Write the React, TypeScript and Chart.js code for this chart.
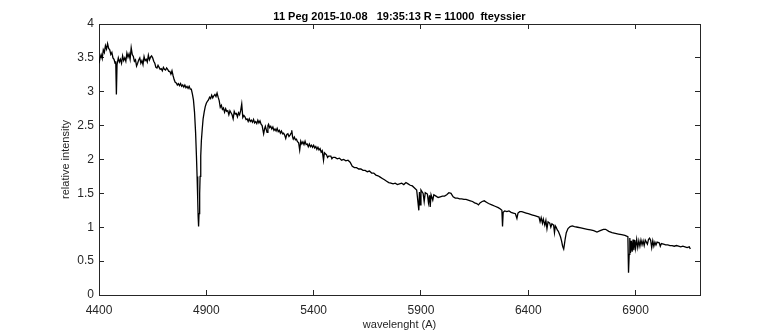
import React, { useEffect, useRef } from "react";
import { Chart, registerables } from "chart.js";

Chart.register(...registerables);

const titleText = "11 Peg 2015-10-08   19:35:13 R = 11000  fteyssier";
const xLabel = "wavelenght (A)";
const yLabel = "relative intensity";

const xTicks = [4400, 4900, 5400, 5900, 6400, 6900];
const yTicks = [0, 0.5, 1, 1.5, 2, 2.5, 3, 3.5, 4];

// [wavelength (A), relative intensity]
const spectrumBlue: [number, number][] = [
  [4400, 3.42], [4405, 3.50], [4410, 3.55], [4415, 3.49], [4420, 3.62], [4425, 3.58], [4430, 3.68], [4435, 3.63],
  [4440, 3.71], [4445, 3.64], [4450, 3.62], [4455, 3.55], [4460, 3.58], [4465, 3.50], [4470, 3.48], [4475, 3.42],
  [4478, 3.45], [4481, 2.96], [4484, 3.40], [4490, 3.50], [4495, 3.44], [4500, 3.48], [4505, 3.42], [4510, 3.53],
  [4515, 3.46], [4520, 3.50], [4525, 3.45], [4530, 3.57], [4535, 3.51], [4540, 3.56], [4545, 3.48], [4550, 3.65],
  [4555, 3.55], [4560, 3.52], [4565, 3.45], [4570, 3.47], [4575, 3.38], [4580, 3.42], [4585, 3.47], [4590, 3.50],
  [4595, 3.42], [4600, 3.46], [4605, 3.40], [4610, 3.52], [4615, 3.46], [4620, 3.48], [4625, 3.44], [4630, 3.54],
  [4635, 3.47], [4640, 3.51], [4645, 3.53], [4650, 3.50], [4655, 3.45], [4660, 3.42], [4665, 3.36], [4670, 3.35],
  [4675, 3.39], [4680, 3.36], [4685, 3.33], [4690, 3.34], [4695, 3.31], [4700, 3.36], [4705, 3.33], [4710, 3.32],
  [4715, 3.35], [4720, 3.33], [4725, 3.30], [4730, 3.30], [4735, 3.26], [4740, 3.31], [4745, 3.24], [4750, 3.18],
  [4755, 3.14], [4760, 3.13], [4765, 3.10], [4770, 3.12], [4775, 3.09], [4780, 3.12], [4785, 3.08], [4790, 3.10],
  [4795, 3.07], [4800, 3.10], [4805, 3.06], [4810, 3.08], [4815, 3.05], [4820, 3.08], [4825, 3.04], [4830, 3.04],
  [4835, 2.97], [4840, 2.88], [4845, 2.70], [4850, 2.40], [4854, 2.05], [4857, 1.75], [4860, 1.40], [4862, 1.15],
  [4864, 1.01], [4866, 1.20], [4869, 1.50], [4871, 1.75], [4874, 2.05], [4877, 2.28], [4881, 2.45], [4885, 2.60],
  [4890, 2.70], [4895, 2.78],
];

const spectrumGreen: [number, number][] = [
  [4900, 2.83], [4905, 2.86], [4910, 2.88], [4915, 2.92], [4920, 2.90], [4925, 2.95], [4930, 2.91], [4935, 2.94],
  [4940, 2.96], [4945, 2.93], [4950, 2.98], [4955, 2.92], [4960, 2.87], [4965, 2.77], [4970, 2.80], [4975, 2.74],
  [4980, 2.76], [4985, 2.70], [4990, 2.75], [4995, 2.71], [5000, 2.72], [5005, 2.66], [5010, 2.72], [5015, 2.69],
  [5020, 2.66], [5025, 2.60], [5030, 2.71], [5035, 2.67], [5040, 2.68], [5045, 2.63], [5050, 2.69], [5055, 2.66],
  [5060, 2.72], [5065, 2.82], [5070, 2.62], [5075, 2.65], [5080, 2.63], [5085, 2.59], [5090, 2.60], [5095, 2.56],
  [5100, 2.60], [5105, 2.56], [5110, 2.58], [5115, 2.55], [5120, 2.59], [5125, 2.54], [5130, 2.56], [5135, 2.53],
  [5140, 2.58], [5145, 2.54], [5150, 2.57], [5155, 2.52], [5160, 2.50], [5167, 2.38], [5172, 2.46], [5175, 2.49],
  [5183, 2.40], [5187, 2.50], [5190, 2.52], [5195, 2.47], [5200, 2.49], [5205, 2.45], [5210, 2.48], [5215, 2.43],
  [5220, 2.45], [5225, 2.42], [5230, 2.46], [5235, 2.41], [5240, 2.43], [5245, 2.39], [5250, 2.42], [5255, 2.38],
  [5260, 2.39], [5265, 2.36], [5270, 2.31], [5275, 2.37], [5280, 2.38], [5285, 2.34], [5290, 2.36], [5295, 2.39],
  [5298, 2.43], [5302, 2.33], [5305, 2.30], [5310, 2.33], [5315, 2.29], [5320, 2.30], [5325, 2.26], [5330, 2.25],
  [5335, 2.14], [5340, 2.27], [5345, 2.23], [5350, 2.26], [5355, 2.22], [5360, 2.27], [5365, 2.22], [5370, 2.23],
  [5375, 2.19], [5380, 2.23], [5385, 2.19], [5390, 2.21], [5395, 2.18], [5400, 2.21], [5405, 2.17], [5410, 2.19],
  [5415, 2.15], [5420, 2.18], [5425, 2.14], [5430, 2.16], [5435, 2.11], [5440, 2.13], [5446, 1.99], [5450, 2.10],
  [5460, 2.07], [5465, 2.03], [5470, 2.05], [5480, 2.05], [5485, 2.01], [5490, 2.03], [5500, 2.03], [5510, 2.01],
  [5520, 2.02], [5530, 1.99], [5540, 2.00], [5550, 1.98], [5560, 1.99], [5570, 1.96], [5580, 1.90], [5590, 1.88],
  [5600, 1.88], [5610, 1.86], [5620, 1.86], [5630, 1.84], [5640, 1.84], [5650, 1.82], [5660, 1.83], [5670, 1.80],
  [5680, 1.80], [5690, 1.77], [5700, 1.76], [5710, 1.74], [5720, 1.72], [5730, 1.70], [5740, 1.68], [5750, 1.66],
  [5760, 1.65], [5770, 1.64], [5780, 1.65], [5790, 1.63], [5800, 1.64], [5810, 1.65], [5820, 1.63], [5830, 1.66],
  [5840, 1.64], [5850, 1.62], [5860, 1.61], [5870, 1.58], [5880, 1.55], [5890, 1.25], [5893, 1.52], [5896, 1.33],
  [5900, 1.55], [5910, 1.50], [5915, 1.38], [5920, 1.51], [5930, 1.49], [5935, 1.36], [5940, 1.47], [5943, 1.30],
  [5947, 1.48], [5955, 1.40], [5960, 1.48], [5970, 1.46], [5980, 1.44], [5990, 1.45],
];

const spectrumRed: [number, number][] = [
  [6000, 1.46], [6010, 1.46], [6020, 1.48], [6030, 1.51], [6040, 1.50], [6050, 1.45], [6060, 1.43], [6070, 1.43],
  [6080, 1.42], [6090, 1.42], [6100, 1.41], [6110, 1.41], [6120, 1.40], [6130, 1.39], [6140, 1.38], [6150, 1.36],
  [6160, 1.35], [6168, 1.33], [6175, 1.36], [6185, 1.38], [6195, 1.39], [6205, 1.37], [6215, 1.35], [6230, 1.33],
  [6245, 1.31], [6260, 1.29], [6270, 1.27], [6277, 1.25], [6280, 1.01], [6283, 1.22], [6290, 1.24], [6300, 1.23],
  [6310, 1.24], [6320, 1.22], [6330, 1.21], [6340, 1.20], [6347, 1.13], [6352, 1.21], [6360, 1.23], [6370, 1.23],
  [6380, 1.22], [6390, 1.21], [6400, 1.20], [6410, 1.19], [6420, 1.18], [6430, 1.17], [6440, 1.16], [6450, 1.15],
  [6455, 1.08], [6460, 1.14], [6466, 1.06], [6470, 1.12], [6477, 1.03], [6482, 1.10], [6487, 0.98], [6492, 1.08],
  [6500, 1.06], [6505, 1.00], [6510, 1.05], [6518, 1.03], [6522, 0.92], [6526, 1.02], [6530, 1.00], [6535, 0.96],
  [6540, 0.94], [6545, 0.90], [6550, 0.86], [6555, 0.80], [6560, 0.72], [6565, 0.68], [6568, 0.74], [6572, 0.83],
  [6577, 0.92], [6585, 0.98], [6595, 1.01], [6605, 1.02], [6615, 1.01], [6630, 1.00], [6645, 0.99], [6660, 0.98],
  [6675, 0.97], [6690, 0.96], [6705, 0.95], [6720, 0.93], [6735, 0.95], [6750, 0.97], [6760, 0.97], [6775, 0.94],
  [6790, 0.92], [6805, 0.91], [6820, 0.90], [6835, 0.89], [6850, 0.88], [6864, 0.86], [6867, 0.33], [6870, 0.60],
  [6873, 0.84], [6876, 0.62], [6880, 0.80], [6884, 0.64], [6888, 0.82], [6892, 0.66], [6896, 0.81], [6900, 0.69],
  [6905, 0.82], [6910, 0.70], [6915, 0.80], [6920, 0.72], [6925, 0.81], [6930, 0.74], [6935, 0.80], [6940, 0.73],
  [6945, 0.81], [6950, 0.78], [6955, 0.75], [6960, 0.82], [6965, 0.84], [6970, 0.81], [6975, 0.70], [6980, 0.80],
  [6985, 0.72], [6990, 0.78], [6995, 0.74], [7000, 0.78], [7010, 0.77], [7015, 0.72], [7020, 0.76], [7030, 0.75],
  [7040, 0.74], [7050, 0.74], [7060, 0.73], [7070, 0.73], [7080, 0.72], [7090, 0.73], [7100, 0.72], [7110, 0.71],
  [7120, 0.72], [7130, 0.71], [7140, 0.70], [7150, 0.71], [7155, 0.68],
];

export default function App() {
  const ref = useRef<HTMLCanvasElement | null>(null);

  useEffect(() => {
    document.body.style.margin = "0";
    const canvas = ref.current;
    if (!canvas) return;
    const axisColor = "#262626";
    const family = "'Liberation Sans', Arial, Helvetica, sans-serif";
    const tickFont = { family, size: 12 };
    const setTicks = (vals: number[]) => (scale: any) => {
      scale.ticks = vals.map((v) => ({ value: v }));
    };
    const gridOpts = {
      drawOnChartArea: false,
      drawTicks: true,
      tickLength: -5,
      color: axisColor,
      tickColor: axisColor,
      lineWidth: 1,
    };
    const borderOpts = { display: true, color: axisColor, width: 1 };
    const points = [...spectrumBlue, ...spectrumGreen, ...spectrumRed].map(([x, y]) => ({ x, y }));

    const chart = new Chart(canvas, {
      type: "line",
      data: {
        datasets: [
          {
            data: points,
            borderColor: "#000000",
            borderWidth: 1.3,
            pointRadius: 0,
            tension: 0,
            fill: false,
          },
        ],
      },
      options: {
        animation: false,
        responsive: false,
        devicePixelRatio: 1,
        layout: { padding: { left: 0, right: 73, top: 0, bottom: 0 } },
        plugins: {
          legend: { display: false },
          tooltip: { enabled: false },
          title: {
            display: true,
            text: titleText,
            fullSize: false,
            color: "#000000",
            font: { family, size: 11, weight: "bold" },
            padding: { top: 10, bottom: 0.8 },
          },
        },
        scales: {
          x: {
            type: "linear",
            position: "bottom",
            min: 4400,
            max: 7200,
            afterBuildTicks: setTicks(xTicks),
            afterFit: (s: any) => {
              s.height = 38;
            },
            grid: gridOpts,
            border: borderOpts,
            ticks: {
              padding: 13,
              color: axisColor,
              font: tickFont,
              maxRotation: 0,
              autoSkip: false,
              callback: (v: any) => String(v),
            },
            title: {
              display: true,
              text: xLabel,
              color: axisColor,
              font: { family, size: 11 },
              padding: { top: 0, bottom: 1 },
            },
          },
          x2: {
            type: "linear",
            position: "top",
            min: 4400,
            max: 7200,
            afterBuildTicks: setTicks(xTicks),
            afterFit: (s: any) => {
              s.height = 0;
            },
            grid: gridOpts,
            border: borderOpts,
            ticks: { display: false },
          },
          y: {
            type: "linear",
            position: "left",
            min: 0,
            max: 4,
            afterBuildTicks: setTicks(yTicks),
            afterFit: (s: any) => {
              s.width = 99;
            },
            grid: gridOpts,
            border: borderOpts,
            ticks: {
              padding: 10,
              color: axisColor,
              font: tickFont,
              callback: (v: any) => String(v),
            },
            title: {
              display: true,
              text: yLabel,
              color: axisColor,
              font: { family, size: 11 },
              padding: { top: 59, bottom: 0 },
            },
          },
          y2: {
            type: "linear",
            position: "right",
            min: 0,
            max: 4,
            afterBuildTicks: setTicks(yTicks),
            afterFit: (s: any) => {
              s.width = 0;
            },
            grid: gridOpts,
            border: borderOpts,
            ticks: { display: false },
          },
        },
      },
    } as any);

    return () => {
      chart.destroy();
    };
  }, []);

  return (
    <div style={{ width: 773, height: 333, position: "relative" }}>
      <canvas ref={ref} width={773} height={333} style={{ display: "block" }} />
    </div>
  );
}
